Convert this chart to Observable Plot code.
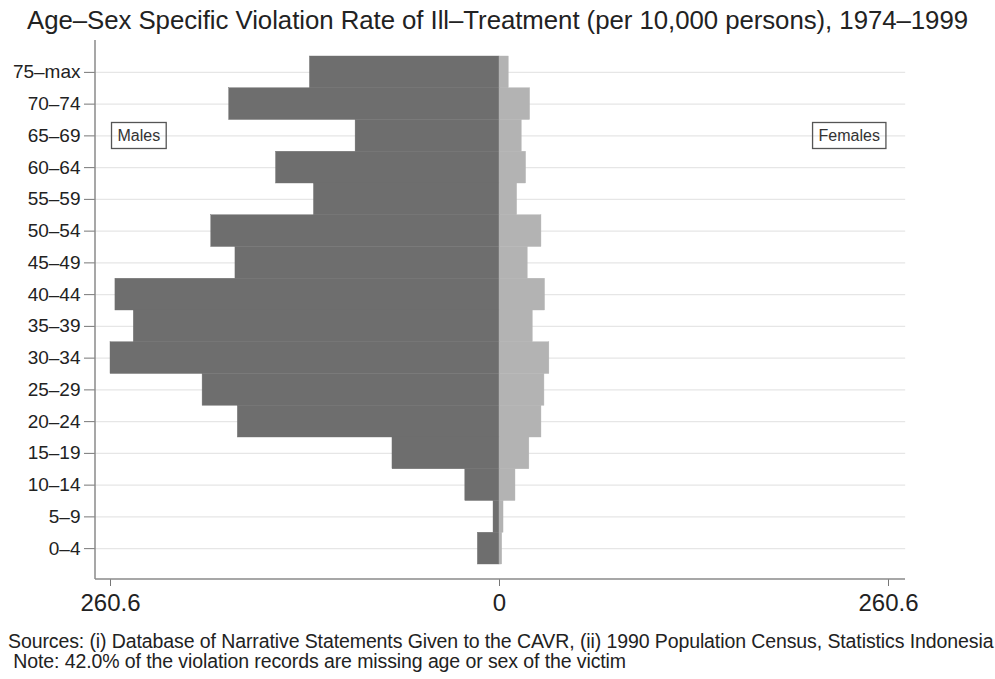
<!DOCTYPE html>
<html>
<head>
<meta charset="utf-8">
<script src="https://cdn.jsdelivr.net/npm/d3@7"></script>
<script src="https://cdn.jsdelivr.net/npm/@observablehq/plot@0.6"></script>
<style>
  html, body { margin: 0; padding: 0; background: #fff; }
  body { width: 995px; height: 679px; overflow: hidden; font-family: "Liberation Sans", Arial, sans-serif; color: #222; position: relative; }
  #title { height: 40px; line-height: 40px; text-align: center; font-size: 25.8px; color: #222; white-space: nowrap; letter-spacing: -0.05px; }
  #chart svg { display: block; }
  #caption { position: absolute; left: 8px; top: 631px; font-size: 19.5px; line-height: 20px; color: #222; white-space: nowrap; letter-spacing: -0.1px; }
</style>
</head>
<body>
<div id="title">Age–Sex Specific Violation Rate of Ill–Treatment (per 10,000 persons), 1974–1999</div>
<div id="chart"></div>
<div id="caption">Sources: (i) Database of Narrative Statements Given to the CAVR, (ii) 1990 Population Census, Statistics Indonesia<br>&nbsp;Note: 42.0% of the violation records are missing age or sex of the victim</div>
<script>
const ageGroups = ["75–max","70–74","65–69","60–64","55–59","50–54","45–49","40–44","35–39","30–34","25–29","20–24","15–19","10–14","5–9","0–4"];
const males   = [127.0, 181.1, 96.4, 149.7, 124.3, 193.1, 176.9, 257.3, 245.0, 260.6, 198.9, 175.3, 71.7, 22.9, 4.0, 14.5];
const females = [6.2, 20.5, 14.9, 17.8, 11.8, 28.1, 18.9, 30.5, 22.3, 33.4, 30.1, 28.1, 20.0, 10.7, 2.7, 1.8];
const xMax = 260.6;
const xTicks = [-260.6, 0, 260.6];
const legendLabels = ["Males", "Females"];
const legendX = [-241.6, 234.3];

const rows = [];
ageGroups.forEach((g, i) => {
  rows.push({age: g, sex: "Males", value: -males[i]});
  rows.push({age: g, sex: "Females", value: females[i]});
});
const legend = legendLabels.map((label, i) => ({label, x: legendX[i]}));
const barColor = d => d.sex === "Males" ? "#6e6e6e" : "#b3b3b3";

const plot = Plot.plot({
  width: 995,
  height: 590,
  marginTop: 0,
  marginBottom: 51,
  marginLeft: 95,
  marginRight: 90,
  style: {fontFamily: "'Liberation Sans', Arial, sans-serif", background: "#fff"},
  x: {domain: [-xMax, xMax], insetLeft: 15, insetRight: 17},
  y: {domain: ageGroups, padding: 0, insetTop: 16, insetBottom: 15, round: false, label: null},
  marks: [
    Plot.ruleY(ageGroups, {y: d => d, x1: -xMax - 10.1, x2: xMax + 11.5, stroke: "#e6e6e6", strokeWidth: 1.2}),
    Plot.barX(rows, {y: "age", x: "value", fill: barColor, stroke: barColor, strokeWidth: 0.4, inset: 0}),
    Plot.axisY({tickSize: 11, tickPadding: 4, fontSize: 19, fill: "#222", stroke: "#777", label: null, tickFormat: d => d}),
    Plot.axisX({ticks: xTicks, tickSize: 7, tickPadding: 7, fontSize: 24, fill: "#222", stroke: "#777", label: null, tickFormat: d => d === 0 ? "0" : Math.abs(d).toFixed(1)}),
    Plot.text(legend, {x: "x", y: () => "65–69", text: "label", fontSize: 16, fill: "#333", textAnchor: "middle"})
  ]
});

document.getElementById("chart").appendChild(plot);
const svg = d3.select(plot);
const yBottom = 539;
// frame lines (left and bottom)
svg.append("line").attr("x1", 95).attr("x2", 95).attr("y1", 0).attr("y2", yBottom).attr("stroke", "#8a8a8a").attr("stroke-width", 1.5);
svg.append("line").attr("x1", 95).attr("x2", 905).attr("y1", yBottom).attr("y2", yBottom).attr("stroke", "#8a8a8a").attr("stroke-width", 1.5);
// legend boxes around the legend texts
svg.selectAll("text").filter(function() { return legendLabels.includes(this.textContent); }).each(function() {
  const b = this.getBBox();
  const m = this.getCTM();
  const padX = 6, padY = 4.5;
  svg.append("rect")
    .attr("x", b.x - padX + (m ? m.e : 0)).attr("y", b.y - padY + (m ? m.f : 0))
    .attr("width", b.width + 2 * padX).attr("height", b.height + 2 * padY)
    .attr("fill", "none").attr("stroke", "#555").attr("stroke-width", 1.3);
});
</script>
</body>
</html>
